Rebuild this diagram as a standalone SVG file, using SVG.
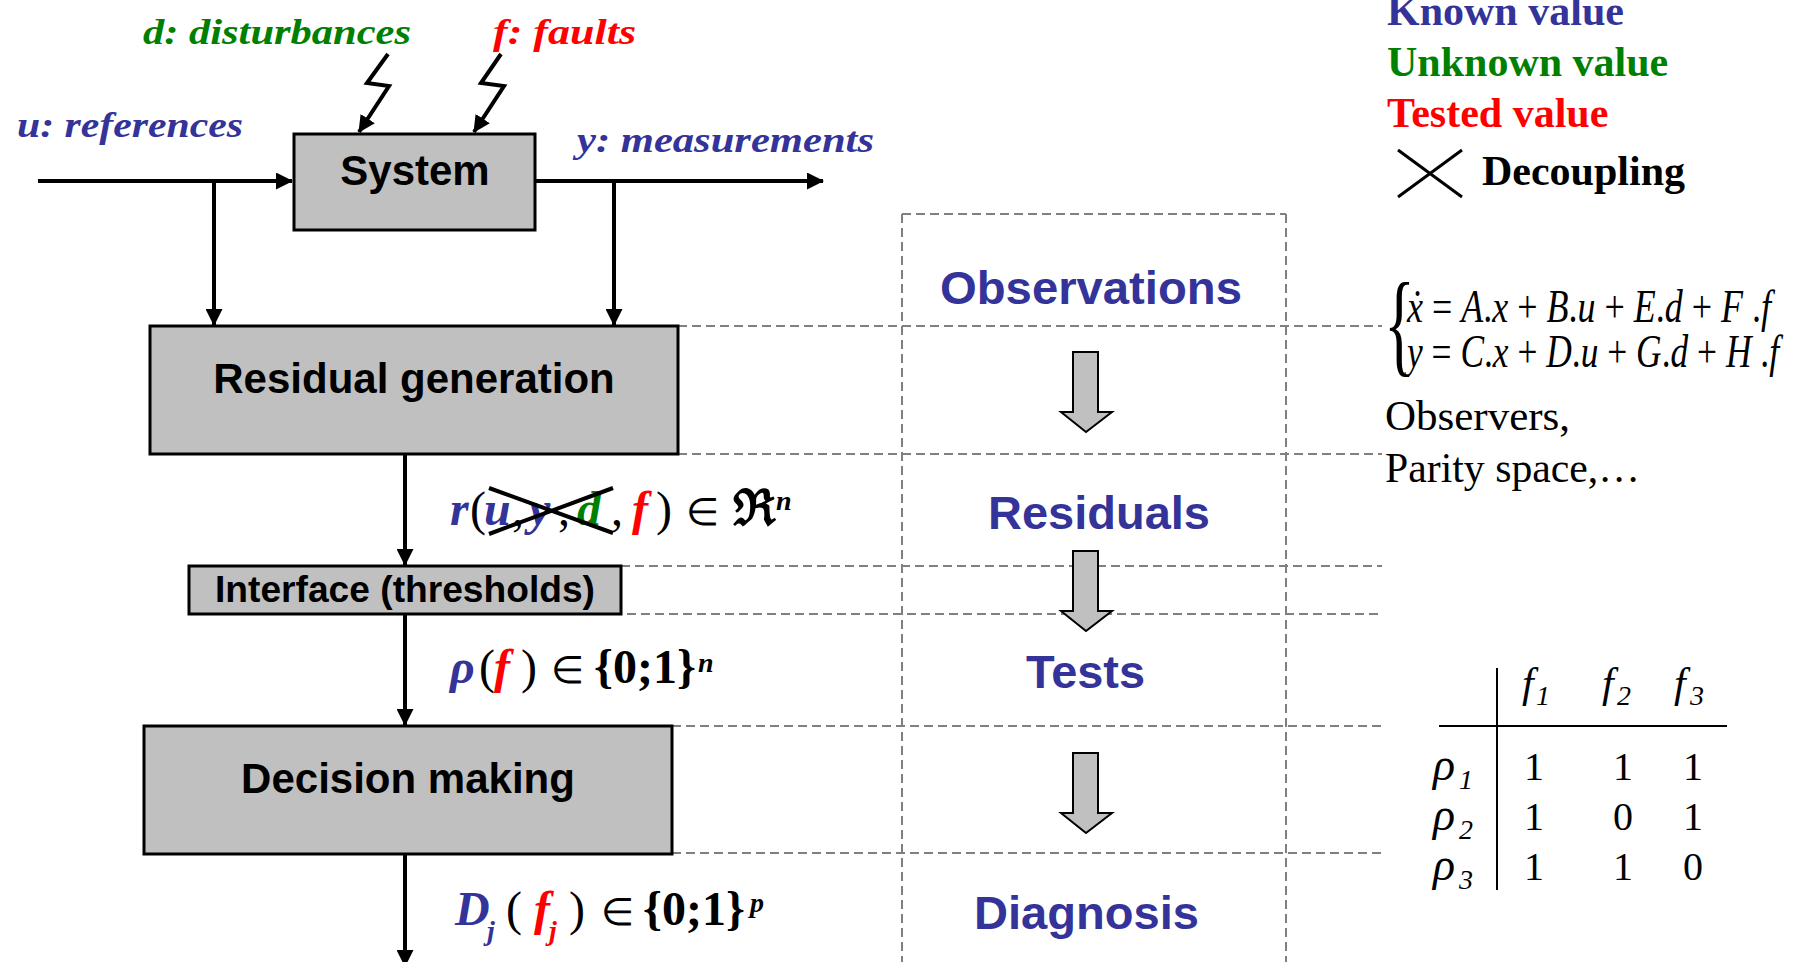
<svg xmlns="http://www.w3.org/2000/svg" width="1793" height="962" viewBox="0 0 1793 962">
<defs>
<marker id="ah" viewBox="0 0 17 17" refX="16" refY="8.5" markerWidth="17" markerHeight="17" markerUnits="userSpaceOnUse" orient="auto">
<path d="M0,0 L17,8.5 L0,17 Z" fill="#000"/>
</marker>
<style>
.box{fill:#C0C0C0;stroke:#000;stroke-width:3}
.blk{font-family:"Liberation Sans",Arial,sans-serif;font-weight:bold;fill:#000}
.stage{font-family:"Liberation Sans",Arial,sans-serif;font-weight:bold;font-size:46px;fill:#333399}
.conn{fill:none;stroke:#000;stroke-width:4}
.dash{fill:none;stroke:#808080;stroke-width:2;stroke-dasharray:9 5}
.lbl{font-family:"Liberation Serif","Times New Roman",serif;font-weight:bold;font-style:italic;font-size:36px}
.tb{font-family:"Liberation Serif","Times New Roman",serif;font-weight:bold;font-size:42px}
.tm{font-family:"Liberation Serif","Times New Roman",serif;fill:#000}
.it{font-style:italic}
.bi{font-style:italic;font-weight:bold}
.bl{fill:#333399}.gr{fill:#008000}.rd{fill:#FF0000}.bk{fill:#000}
.barrow{fill:#C0C0C0;stroke:#000;stroke-width:2}
</style>
</defs>
<rect width="1793" height="962" fill="#fff"/>

<!-- dashed grid -->
<g id="grid">
<path class="dash" d="M902,214 H1286 M902,214 V962 M1286,214 V962"/>
<path class="dash" d="M678,326 H1382 M678,454 H1382 M621,566 H1382 M613,614 H1378 M672,726 H1382 M672,853 H1382"/>
</g>

<!-- connectors -->
<g id="connectors">
<path class="conn" d="M38,181 H292" marker-end="url(#ah)"/>
<path class="conn" d="M214,181 V325" marker-end="url(#ah)"/>
<path class="conn" d="M535,181 H823" marker-end="url(#ah)"/>
<path class="conn" d="M614,181 V325" marker-end="url(#ah)"/>
<path class="conn" d="M405,455 V565" marker-end="url(#ah)"/>
<path class="conn" d="M405,615 V725" marker-end="url(#ah)"/>
<path class="conn" d="M405,855 V966" marker-end="url(#ah)"/>
<polyline class="conn" points="388,54 367,83 389,86 359,132" marker-end="url(#ah)"/>
<polyline class="conn" points="501,54 481,83 504,86 474,132" marker-end="url(#ah)"/>
</g>

<!-- input labels -->
<g id="labels">
<text class="lbl gr" x="143" y="44" textLength="268" lengthAdjust="spacingAndGlyphs">d: disturbances</text>
<text class="lbl rd" x="493" y="44" textLength="143" lengthAdjust="spacingAndGlyphs">f: faults</text>
<text class="lbl bl" x="17" y="137" textLength="226" lengthAdjust="spacingAndGlyphs">u: references</text>
<text class="lbl bl" x="577" y="152" textLength="297" lengthAdjust="spacingAndGlyphs">y: measurements</text>
</g>

<g id="system">
<rect class="box" x="294" y="134" width="241" height="96"/>
<text class="blk" x="415" y="185" font-size="42" text-anchor="middle">System</text>
</g>
<g id="residual-generation">
<rect class="box" x="150" y="326" width="528" height="128"/>
<text class="blk" x="414" y="393" font-size="42" text-anchor="middle">Residual generation</text>
</g>
<g id="interface">
<rect class="box" x="189" y="566" width="432" height="48"/>
<text class="blk" x="405" y="602" font-size="36" text-anchor="middle" textLength="380" lengthAdjust="spacingAndGlyphs">Interface (thresholds)</text>
</g>
<g id="decision-making">
<rect class="box" x="144" y="726" width="528" height="128"/>
<text class="blk" x="408" y="793" font-size="42" text-anchor="middle">Decision making</text>
</g>

<!-- stage column -->
<g id="stage-observations"><text class="stage" x="940" y="304" textLength="302" lengthAdjust="spacingAndGlyphs">Observations</text></g>
<g id="stage-residuals"><text class="stage" x="988" y="529" textLength="222" lengthAdjust="spacingAndGlyphs">Residuals</text></g>
<g id="stage-tests"><text class="stage" x="1026" y="688" textLength="119" lengthAdjust="spacingAndGlyphs">Tests</text></g>
<g id="stage-diagnosis"><text class="stage" x="974" y="929" textLength="225" lengthAdjust="spacingAndGlyphs">Diagnosis</text></g>
<g id="stage-arrows">
<polygon class="barrow" points="1073,352 1098,352 1098,412 1112,412 1086,432 1061,412 1073,412"/>
<polygon class="barrow" points="1073,551 1098,551 1098,611 1112,611 1086,631 1061,611 1073,611"/>
<polygon class="barrow" points="1073,753 1098,753 1098,813 1112,813 1086,833 1061,813 1073,813"/>
</g>

<!-- residual formula -->
<g id="formula-r" class="tm" font-size="48">
<text y="525"><tspan class="bi bl" x="450">r</tspan><tspan x="470">(</tspan><tspan class="bi bl" x="484">u</tspan><tspan x="512">,</tspan><tspan class="bi bl" x="529">y</tspan><tspan x="558">,</tspan><tspan class="bi gr" x="577">d</tspan><tspan x="611">,</tspan><tspan class="bi rd" x="632">f</tspan><tspan x="656">)</tspan><tspan x="686" font-size="38">∈</tspan><tspan x="733" font-size="50" font-weight="bold">ℜ</tspan></text>
<text class="bi" x="776" y="510" font-size="28">n</text>
<path d="M489,488 L613,533 M489,534 L613,488" stroke="#000" stroke-width="4" fill="none"/>
</g>
<g id="formula-rho" class="tm" font-size="48">
<text y="683"><tspan class="bi bl" x="450">ρ</tspan><tspan x="479">(</tspan><tspan class="bi rd" x="494">f</tspan><tspan x="521">)</tspan><tspan x="551" font-size="38">∈</tspan><tspan x="594" font-weight="bold">{0;1}</tspan></text>
<text class="bi" x="698" y="672" font-size="28">n</text>
</g>
<g id="formula-d" class="tm" font-size="48">
<text y="925"><tspan class="bi bl" x="455">D</tspan><tspan x="506">(</tspan><tspan class="bi rd" x="534">f</tspan><tspan x="569">)</tspan><tspan x="601" font-size="38">∈</tspan><tspan x="643" font-weight="bold">{0;1}</tspan></text>
<text class="bi bl" x="487" y="940" font-size="28">j</text>
<text class="bi rd" x="549" y="940" font-size="28">j</text>
<text class="bi" x="750" y="912" font-size="28">p</text>
</g>

<!-- legend -->
<g id="legend">
<text class="tb bl" x="1387" y="25">Known value</text>
<text class="tb gr" x="1387" y="76">Unknown value</text>
<text class="tb rd" x="1387" y="127">Tested value</text>
<path d="M1398,150 L1462,197 M1398,197 L1462,150" stroke="#000" stroke-width="3"/>
<text class="tb bk" x="1482" y="185">Decoupling</text>
</g>

<!-- model equations -->
<g id="model" class="tm">
<text transform="translate(1384,362) scale(0.56,1)" x="0" y="0" font-size="115">{</text>
<text x="1407" y="322" font-size="46" textLength="364" lengthAdjust="spacingAndGlyphs"><tspan class="it">ẋ</tspan> = <tspan class="it">A</tspan>.<tspan class="it">x</tspan> + <tspan class="it">B</tspan>.<tspan class="it">u</tspan> + <tspan class="it">E</tspan>.<tspan class="it">d</tspan> + <tspan class="it">F</tspan> .<tspan class="it">f</tspan></text>
<text x="1407" y="367" font-size="46" textLength="372" lengthAdjust="spacingAndGlyphs"><tspan class="it">y</tspan> = <tspan class="it">C</tspan>.<tspan class="it">x</tspan> + <tspan class="it">D</tspan>.<tspan class="it">u</tspan> + <tspan class="it">G</tspan>.<tspan class="it">d</tspan> + <tspan class="it">H</tspan> .<tspan class="it">f</tspan></text>
<text x="1385" y="430" font-size="43">Observers,</text>
<text x="1385" y="482" font-size="43" textLength="255" lengthAdjust="spacingAndGlyphs">Parity space,…</text>
</g>

<!-- signature table -->
<g id="table" class="tm" font-size="40">
<path d="M1497,668 V890 M1439,726 H1727" stroke="#000" stroke-width="2"/>
<text class="it" x="1522" y="697" font-size="42">f</text><text class="it" x="1536" y="705" font-size="28">1</text>
<text class="it" x="1602" y="697" font-size="42">f</text><text class="it" x="1617" y="705" font-size="28">2</text>
<text class="it" x="1674" y="697" font-size="42">f</text><text class="it" x="1690" y="705" font-size="28">3</text>
<text class="it" x="1433" y="780" font-size="46">ρ</text><text class="it" x="1459" y="789" font-size="28">1</text>
<text class="it" x="1433" y="830" font-size="46">ρ</text><text class="it" x="1459" y="839" font-size="28">2</text>
<text class="it" x="1433" y="880" font-size="46">ρ</text><text class="it" x="1459" y="889" font-size="28">3</text>
<g text-anchor="middle">
<text x="1534" y="780">1</text><text x="1623" y="780">1</text><text x="1693" y="780">1</text>
<text x="1534" y="830">1</text><text x="1623" y="830">0</text><text x="1693" y="830">1</text>
<text x="1534" y="880">1</text><text x="1623" y="880">1</text><text x="1693" y="880">0</text>
</g>
</g>
</svg>
